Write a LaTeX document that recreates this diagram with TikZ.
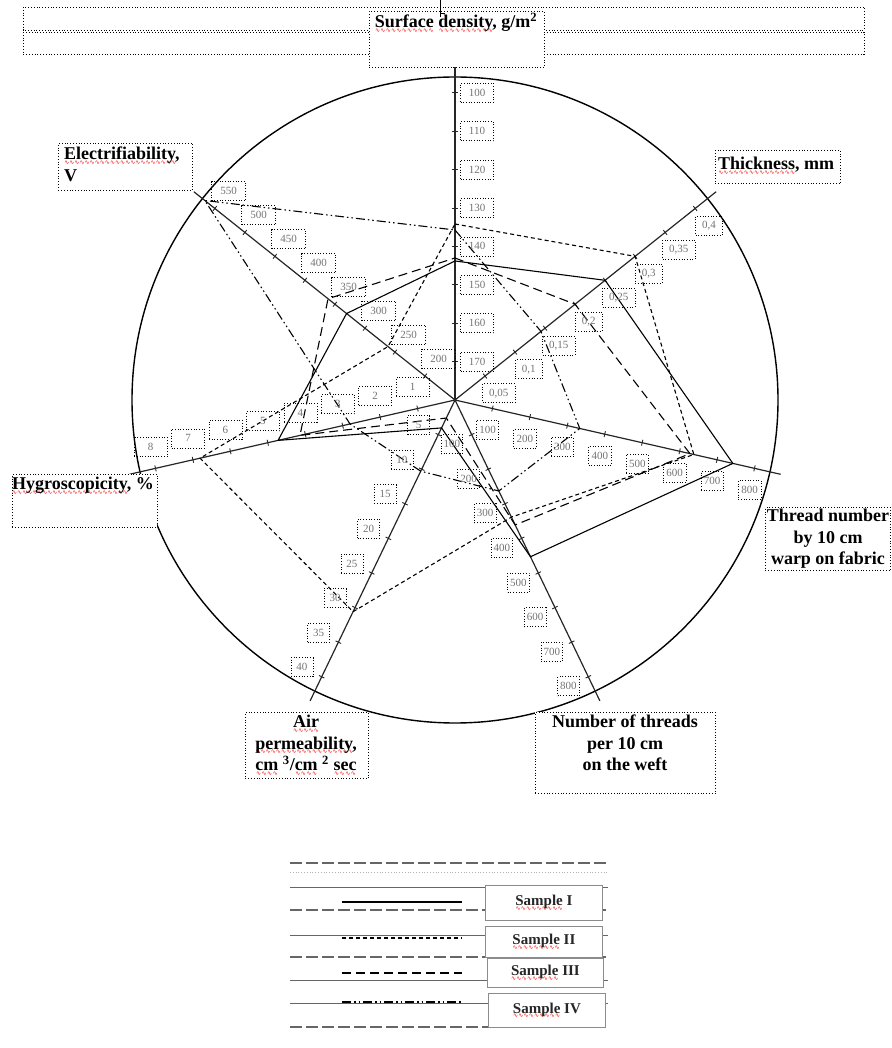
\documentclass[tikz,border=0pt]{standalone}
\usepackage{fontspec}
\setmainfont{Liberation Serif}
\newfontfamily\djv{DejaVu Sans}
\usetikzlibrary{calc}
\newcommand\rwave[1]{\setbox0\hbox{#1}\rlap{\raisebox{-4.5pt}{\hbox to \wd0{\color{red}\xleaders\hbox{\djv\mdseries\fontsize{6}{6}\selectfont\char"223F}\hfill}}}#1}
\tikzset{
  axisln/.style={line width=1.2pt, black!85},
  tickln/.style={line width=0.9pt, black!85},
  numlbl/.style={draw, dotted, line width=0.7pt, text=black!55,
    font=\fontsize{11}{12}\selectfont, inner ysep=3pt, minimum height=19pt},
  bigtxt/.style={font=\bfseries\fontsize{18}{21.5}\selectfont, inner sep=0pt},
  dotbox/.style={draw, dotted, line width=0.8pt, fill=white, inner sep=0pt},
  dotln/.style={draw, dotted, line width=0.8pt},
  sI/.style={line width=1.1pt},
  sII/.style={line width=1.1pt, dash pattern=on 4pt off 3pt},
  sIII/.style={line width=1.1pt, dash pattern=on 9pt off 5pt},
  sIV/.style={line width=1.1pt, dash pattern=on 9pt off 3pt on 1.5pt off 3pt on 1.5pt off 3pt},
  legdash/.style={line width=1.6pt, black!60, dash pattern=on 12pt off 4pt},
  legthin/.style={line width=0.7pt, black!60},
  legbox/.style={draw=black!45, line width=0.8pt, fill=white, inner sep=0pt,
    font=\bfseries\fontsize{15}{17}\selectfont, text=black!85},
}
\newcommand\axlabels[4]{%
  \foreach \v [count=\k] in {#4}{%
    \node[numlbl,#3] (#1\k) at ($({#2}:{38.4*\k})+({#2-90}:22)$) {\v};}}
\newcommand\sample[3]{%
  \foreach \r [count=\i] in {#3}{%
    \pgfmathsetmacro\ang{90-(\i-1)*360/7}
    \coordinate (#1\i) at (\ang:\r);}
  \draw[#2] (#11) -- (#12) -- (#13) -- (#14) -- (#15) -- (#16) -- (#17) -- cycle;}
\begin{document}
\begin{tikzpicture}[x=1pt,y=1pt]
\coordinate (O) at (0,0);
\draw[line width=1.4pt] (O) circle[radius=323];
% axes and ticks
\foreach \i in {1,...,7}{
  \pgfmathsetmacro\ang{90-(\i-1)*360/7}
  \coordinate (ax\i) at (\ang:334);
  \draw[axisln] (O) -- (ax\i);
  \foreach \k in {1,...,8}{
    \draw[tickln] ($({\ang}:{38.4*\k})+({\ang+90}:3)$) -- ($({\ang}:{38.4*\k})+({\ang-90}:3)$);}
}
% samples
\sample{a}{sI}{139,192,285,174,31,181.5,138.7}
\sample{b}{sII}{176,230.4,245,130,235,261.5,85.7}
\sample{c}{sIII}{142,153.6,241,138.7,20,159,162.4}
\sample{d}{sIV}{170,110,128,101,79,107.7,320}
% scale labels
\axlabels{sd}{90}{minimum width=33pt}{170,160,150,140,130,120,110,100}
\axlabels{th}{38.5714}{inner xsep=6.5pt}{0{,}05,0{,}1,0{,}15,0{,}2,0{,}25,0{,}3,0{,}35,0{,}4}
\axlabels{wa}{-12.8571}{inner xsep=3pt}{100,200,300,400,500,600,700,800}
\axlabels{wf}{-64.2857}{inner xsep=2.5pt}{100,200,300,400,500,600,700,800}
\axlabels{ai}{-115.7143}{minimum width=22pt,inner xsep=3pt}{5,10,15,20,25,30,35,40}
\axlabels{hy}{-167.1429}{minimum width=33pt}{1,2,3,4,5,6,7,8}
\axlabels{el}{141.4286}{minimum width=34pt}{200,250,300,350,400,450,500,550}
% pixel-based elements
\begin{scope}[shift={(-455,400)}, yscale=-1]
  \useasboundingbox (0,0) rectangle (891,1048);
  \draw[dotln] (23,7) rectangle (864,30);
  \draw[dotln] (23,32) rectangle (864,54);
  \node[dotbox, minimum width=175pt, minimum height=56pt, anchor=north west] (sdbox) at (369,11) {};
  \node[bigtxt, anchor=north] (sdtxt) at (456,13) {\rwave{Surface} \rwave{density}, g/m\textsuperscript{2}};
  \draw[line width=0.9pt] (440,0) -- (440,17);
  \draw[line width=0.9pt] (440,13) -- (445,13);
  \node[dotbox, minimum width=134pt, minimum height=47pt, anchor=north west] (elbox) at (58,143) {};
  \node[bigtxt, anchor=north west, align=left] (eltxt) at (64,147) {\rwave{Electrifiability},\\V};
  \node[dotbox, minimum width=125pt, minimum height=33pt, anchor=north west] (thbox) at (715,150) {};
  \node[bigtxt, anchor=base west] (thtxt) at (718,170) {\rwave{Thickness}, mm};
  \node[dotbox, minimum width=145pt, minimum height=53pt, anchor=north west] (hybox) at (12,474) {};
  \node[bigtxt, anchor=base west] (hytxt) at (12,490) {\rwave{Hygroscopicity}, \%};
  \node[bigtxt, draw, dotted, line width=0.8pt, fill=white, inner sep=1.5pt, align=center] (watxt) at (828,539) {Thread number\\ by 10 cm\\ warp on fabric};
  \node[dotbox, minimum width=123pt, minimum height=66pt, anchor=north west] (aibox) at (245,712) {};
  \node[bigtxt, align=center, anchor=north] (aitxt) at (306,715) {\rwave{Air}\\ \rwave{permeability},\\ \rwave{cm} \textsuperscript{3}/\rwave{cm} \textsuperscript{2} \rwave{sec}};
  \node[dotbox, minimum width=180pt, minimum height=81pt, anchor=north west] (wfbox) at (535,712) {};
  \node[bigtxt, align=center, anchor=north] (wftxt) at (625,715) {Number of threads\\ per 10 cm\\ on the weft};
  % legend
  \draw[legdash] (290,863) -- (608,863);
  \draw[dotted, black!30, line width=0.8pt] (290,872) -- (608,872);
  \draw[legthin] (290,887) -- (608,887);
  \draw[legdash] (290,910) -- (608,910);
  \draw[legthin] (290,935) -- (608,935);
  \draw[legdash] (290,957) -- (608,957);
  \draw[legthin] (290,980) -- (608,980);
  \draw[legthin] (290,1003) -- (608,1003);
  \draw[legdash] (290,1027) -- (608,1027);
  \draw[sI] (342,902) -- (462,902);
  \draw[sII] (342,938) -- (462,938);
  \draw[sIII] (342,973) -- (462,973);
  \draw[sIV] (342,1002) -- (462,1002);
  \node[legbox, minimum width=117pt, minimum height=35pt, anchor=north west] (lb1) at (485,885) {\rwave{Sample} I};
  \node[legbox, minimum width=117pt, minimum height=31pt, anchor=north west] (lb2) at (485,926) {\rwave{Sample} II};
  \node[legbox, minimum width=116pt, minimum height=29pt, anchor=north west] (lb3) at (487,958) {\rwave{Sample} III};
  \node[legbox, minimum width=117pt, minimum height=34pt, anchor=north west] (lb4) at (488,993) {\rwave{Sample} IV};
\end{scope}
\end{tikzpicture}
\end{document}
